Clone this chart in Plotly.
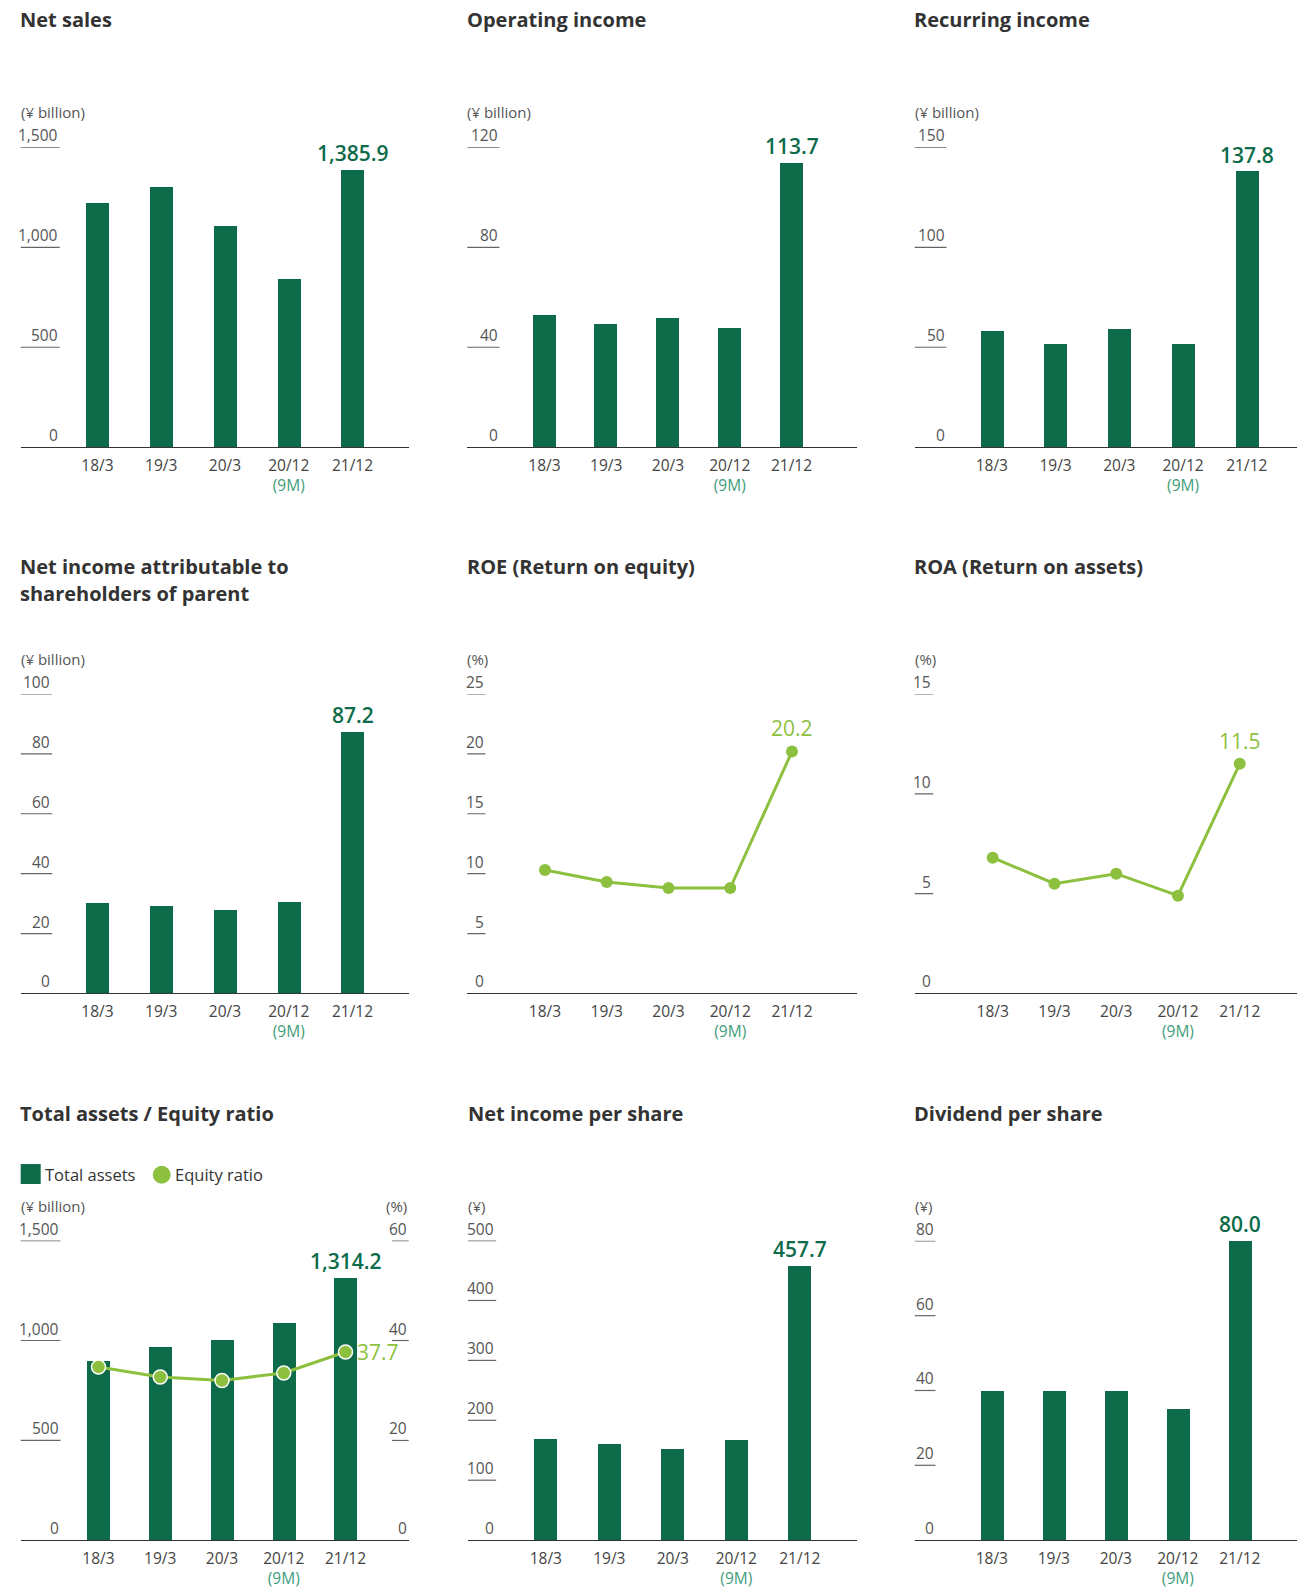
import plotly.graph_objects as go

# ---------------- data ----------------
categories = ["18/3", "19/3", "20/3", "20/12", "21/12"]
tick_text = ["18/3", "19/3", "20/3",
             "20/12<br><span style='color:#3f9d7c'>(9M)</span>", "21/12"]

net_sales = [1221.9, 1300.2, 1102.9, 840.6, 1385.9]
operating_income = [52.7, 49.1, 51.5, 47.5, 113.7]
recurring_income = [57.8, 51.3, 58.8, 51.3, 137.8]
net_income = [30.2, 29.2, 27.9, 30.6, 87.2]
roe = [10.3, 9.3, 8.8, 8.8, 20.2]
roa = [6.8, 5.5, 6.0, 4.9, 11.5]
total_assets = [898.0, 968.0, 1003.0, 1088.0, 1314.2]
equity_ratio = [34.7, 32.7, 32.0, 33.5, 37.7]
eps = [170.0, 161.7, 153.3, 168.3, 457.7]
dividend = [40.0, 40.0, 40.0, 35.0, 80.0]

ticks_net_sales = [0, 500, 1000, 1500]
ticks_operating = [0, 40, 80, 120]
ticks_recurring = [0, 50, 100, 150]
ticks_net_income = [0, 20, 40, 60, 80, 100]
ticks_roe = [0, 5, 10, 15, 20, 25]
ticks_roa = [0, 5, 10, 15]
ticks_assets = [0, 500, 1000, 1500]
ticks_equity = [0, 20, 40, 60]
ticks_eps = [0, 100, 200, 300, 400, 500]
ticks_dividend = [0, 20, 40, 60, 80]

# ---------------- styling ----------------
W, H = 1297, 1589
OFF = 0
FONT = "Open Sans"
DARK = "#0e6b4a"
LIGHT = "#8dc03f"
TXT = "#555555"
TITLE = "#333333"
TICK_SIZE = 15.5


def px2x(p):
    return (p - OFF) / W


def px2y(p):
    return 1 - (p - OFF) / H


panels = [
    dict(title=["Net sales"], ty=[20], unit="(¥ billion)", uy=112, vals=net_sales, kind="bar",
         ticks=ticks_net_sales, L=20.7, R=408.7, top=147.7, base=448.3, c0=97.5, c4=352.5, lr=59.8),
    dict(title=["Operating income"], ty=[20], unit="(¥ billion)", uy=112, vals=operating_income, kind="bar",
         ticks=ticks_operating, L=467.3, R=856.7, top=147.7, base=448.3, c0=544.5, c4=791.5, lr=499.5),
    dict(title=["Recurring income"], ty=[20], unit="(¥ billion)", uy=112, vals=recurring_income, kind="bar",
         ticks=ticks_recurring, L=914.7, R=1297, top=147.7, base=448.3, c0=991.8, c4=1246.8, lr=946.5),
    dict(title=["Net income attributable to", "shareholders of parent"], ty=[568, 595], unit="(¥ billion)",
         uy=660.7, vals=net_income, kind="bar",
         ticks=ticks_net_income, L=20.7, R=408.7, top=695.7, base=996, c0=97.5, c4=352.5, lr=52.2),
    dict(title=["ROE (Return on equity)"], ty=[568], unit="(%)", uy=660.7, vals=roe, kind="line",
         ticks=ticks_roe, L=467.3, R=856.7, top=695.7, base=996, c0=545, c4=792, lr=485.5),
    dict(title=["ROA (Return on assets)"], ty=[568], unit="(%)", uy=660.7, vals=roa, kind="line",
         ticks=ticks_roa, L=914.7, R=1297, top=695.7, base=996, c0=992.7, c4=1239.7, lr=933.2),
    dict(title=["Total assets / Equity ratio"], ty=[1116], unit="(¥ billion)", uy=1209, vals=total_assets,
         kind="bar", ticks=ticks_assets, L=20.7, R=408.7, top=1243.7, base=1544.3, c0=98.5, c4=345.5, lr=60.5),
    dict(title=["Net income per share"], ty=[1116], unit="(¥)", uy=1209, vals=eps, kind="bar",
         ticks=ticks_eps, L=468, R=856.7, top=1243.7, base=1544, c0=545.8, c4=799.8, lr=496.2),
    dict(title=["Dividend per share"], ty=[1116], unit="(¥)", uy=1209, vals=dividend, kind="bar",
         ticks=ticks_dividend, L=914.7, R=1297, top=1244, base=1544, c0=991.8, c4=1239.8, lr=935.5),
]

fig = go.Figure()
layout = dict(
    width=W, height=H, margin=dict(l=0, r=0, t=0, b=0),
    paper_bgcolor="white", plot_bgcolor="white",
    font=dict(family=FONT, color=TXT, size=15),
    showlegend=False, bargap=0,
)
annotations = []
shapes = []

for i, p in enumerate(panels):
    n = i + 1
    xa = "x" if n == 1 else f"x{n}"
    ya = "y" if n == 1 else f"y{n}"
    xkey = "xaxis" if n == 1 else f"xaxis{n}"
    ykey = "yaxis" if n == 1 else f"yaxis{n}"
    unit = (p["c4"] - p["c0"]) / 4
    xr = [-(p["c0"] - p["L"]) / unit, 4 + (p["R"] - p["c4"]) / unit]
    ymax = p["ticks"][-1]

    layout[xkey] = dict(
        domain=[px2x(p["L"]), min(1.0, px2x(p["R"]))], anchor=ya,
        type="category", range=xr, tickvals=categories, ticktext=tick_text,
        showline=True, linecolor="#333333", linewidth=1.3, ticks="",
        showgrid=False, zeroline=False, tickfont=dict(size=TICK_SIZE, color="#444444"),
        ticklabelstandoff=4, fixedrange=True,
    )
    layout[ykey] = dict(
        domain=[px2y(p["base"]), px2y(p["top"])], anchor=xa, range=[0, ymax],
        showticklabels=False, showgrid=False, zeroline=False, showline=False,
        ticks="", fixedrange=True,
    )

    if p["kind"] == "bar":
        fig.add_trace(go.Bar(x=categories, y=p["vals"], xaxis=xa, yaxis=ya,
                             marker=dict(color=DARK, line=dict(width=0)),
                             width=23 / unit, hoverinfo="skip"))
        annotations.append(dict(
            x=categories[-1], y=p["vals"][-1], xref=xa, yref=ya,
            text=f"{p['vals'][-1]:,.1f}", showarrow=False, yanchor="bottom", yshift=1,
            font=dict(size=21, color=DARK, weight=600)))
    else:
        fig.add_trace(go.Scatter(x=categories, y=p["vals"], xaxis=xa, yaxis=ya,
                                 mode="lines+markers", line=dict(color=LIGHT, width=3),
                                 marker=dict(size=12, color=LIGHT), hoverinfo="skip",
                                 cliponaxis=False))
        annotations.append(dict(
            x=categories[-1], y=p["vals"][-1], xref=xa, yref=ya,
            text=f"{p['vals'][-1]:,.1f}", showarrow=False, yanchor="bottom", yshift=7,
            font=dict(size=21, color=LIGHT)))

    frac = (p["lr"] - p["L"]) / (p["R"] - p["L"])
    for v in p["ticks"]:
        annotations.append(dict(
            x=frac, y=v, xref=f"{xa} domain", yref=ya, text=f"{v:,}",
            showarrow=False, xanchor="right", yanchor="bottom", yshift=-1,
            font=dict(size=TICK_SIZE, color=TXT)))
        if v != 0:
            shapes.append(dict(type="line", xref=f"{xa} domain", yref=ya,
                               x0=0, x1=frac, y0=v, y1=v,
                               line=dict(color="#666666", width=1.2)))

    # title
    for line_txt, ty in zip(p["title"], p["ty"]):
        annotations.append(dict(
            x=px2x(p["L"] - 2.5), y=px2y(ty), xref="paper", yref="paper", text=f"<b>{line_txt}</b>",
            showarrow=False, xanchor="left", yanchor="middle",
            font=dict(size=20, color=TITLE)))
    # unit
    annotations.append(dict(
        x=0, y=px2y(p["uy"]), xref=f"{xa} domain", yref="paper", text=p["unit"],
        showarrow=False, xanchor="left", yanchor="middle", xshift=-2,
        font=dict(size=15, color=TXT)))

# secondary axis for equity ratio (panel 7)
layout["yaxis10"] = dict(
    domain=layout["yaxis7"]["domain"], overlaying="y7", anchor="x7", side="right",
    range=[0, ticks_equity[-1]], showticklabels=False, showgrid=False, zeroline=False,
    showline=False, ticks="", fixedrange=True,
)
fig.add_trace(go.Scatter(x=categories, y=equity_ratio, xaxis="x7", yaxis="y10",
                         mode="lines+markers", line=dict(color=LIGHT, width=3),
                         marker=dict(size=14, color=LIGHT, line=dict(color="white", width=1.5)),
                         hoverinfo="skip", cliponaxis=False))
annotations.append(dict(
    x=categories[-1], y=equity_ratio[-1], xref="x7", yref="y10",
    text=f"{equity_ratio[-1]:.1f}", showarrow=False, xanchor="left", yanchor="middle", xshift=9,
    font=dict(size=21, color=LIGHT)))

p7 = panels[6]
rfrac = (392 - p7["L"]) / (p7["R"] - p7["L"])
for v in ticks_equity:
    annotations.append(dict(
        x=1, y=v, xref="x7 domain", yref="y10", text=f"{v}",
        showarrow=False, xanchor="right", yanchor="bottom", yshift=-1,
        font=dict(size=TICK_SIZE, color=TXT)))
    if v != 0:
        shapes.append(dict(type="line", xref="x7 domain", yref="y10",
                           x0=rfrac, x1=1, y0=v, y1=v,
                           line=dict(color="#666666", width=1.2)))
annotations.append(dict(
    x=1, y=px2y(1209), xref="x7 domain", yref="paper", text="(%)",
    showarrow=False, xanchor="right", yanchor="middle",
    font=dict(size=15, color=TXT)))

# legend for panel 7
shapes.append(dict(type="rect", xref="paper", yref="paper",
                   x0=px2x(20.7), x1=px2x(40.7), y0=px2y(1187), y1=px2y(1167),
                   fillcolor=DARK, line=dict(width=0)))
annotations.append(dict(x=px2x(42.5), y=px2y(1177.5), xref="paper", yref="paper",
                        text="Total assets", showarrow=False, xanchor="left", yanchor="middle",
                        font=dict(size=16.5, color=TITLE)))
shapes.append(dict(type="circle", xref="paper", yref="paper",
                   x0=px2x(152.7), x1=px2x(170.7), y0=px2y(1186.7), y1=px2y(1168.7),
                   fillcolor=LIGHT, line=dict(width=0)))
annotations.append(dict(x=px2x(173), y=px2y(1177.5), xref="paper", yref="paper",
                        text="Equity ratio", showarrow=False, xanchor="left", yanchor="middle",
                        font=dict(size=16.5, color=TITLE)))

layout["annotations"] = annotations
layout["shapes"] = shapes
fig.update_layout(**layout)
fig.write_html(
    "out.html",
    config={"displayModeBar": False},
    post_script="document.body.style.margin='0';document.body.style.overflow='hidden';"
                "document.documentElement.style.overflow='hidden';",
)
